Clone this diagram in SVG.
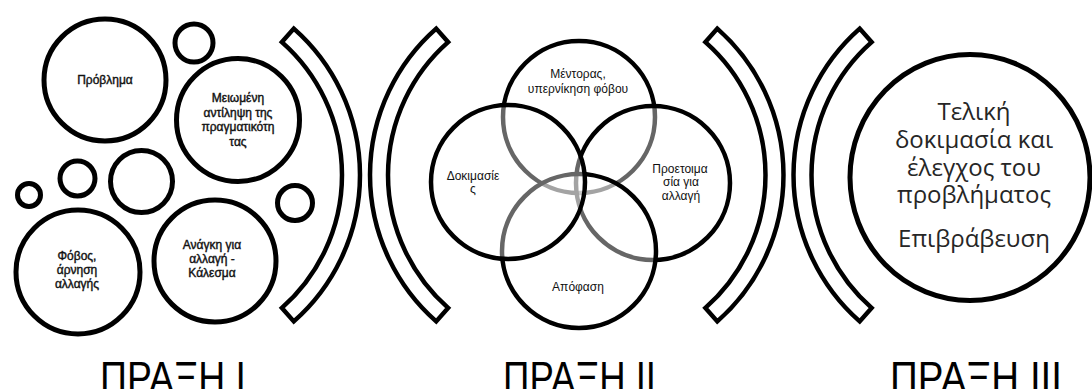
<svg xmlns="http://www.w3.org/2000/svg" width="1092" height="389" viewBox="0 0 1092 389">
<style>
.c{fill:#fff;stroke:#000;stroke-width:5}
.v{fill:#fff;fill-opacity:0.4;stroke:#000;stroke-width:4.5}
.b{fill:#fff;stroke:#000;stroke-width:4.5;stroke-linejoin:miter}
.t{font-family:"Liberation Sans",Arial,sans-serif;font-size:12px;fill:#111;text-anchor:middle}
.k{stroke:#111;stroke-width:0.4}
.f{font-family:"Open Sans","Noto Sans",sans-serif;font-size:24px;fill:#262626;text-anchor:middle}
.h{font-family:"Liberation Sans",Arial,sans-serif;font-size:44px;fill:#000}
</style>
<rect width="1092" height="389" fill="#fff"/>
<g id="act1">
  <g id="problem"><circle class="c" cx="105" cy="80" r="61"/><text class="t k" x="105" y="84">Πρόβλημα</text></g>
  <g id="small-top"><circle class="c" cx="194" cy="43" r="19"/></g>
  <g id="perception"><circle class="c" cx="238" cy="120" r="61.5"/>
    <text class="t k" x="238" y="102">Μειωμένη</text>
    <text class="t k" x="238" y="116.5">αντίληψη της</text>
    <text class="t k" x="238" y="131">πραγματικότη</text>
    <text class="t k" x="238" y="145.5">τας</text></g>
  <g id="small-a"><circle class="c" cx="29" cy="195" r="11.5"/></g>
  <g id="small-b"><circle class="c" cx="77.5" cy="178.5" r="17.5"/></g>
  <g id="small-c"><circle class="c" cx="141.5" cy="181.5" r="31"/></g>
  <g id="small-d"><circle class="c" cx="295" cy="203" r="17.5"/></g>
  <g id="fear"><circle class="c" cx="78" cy="272" r="62"/>
    <text class="t k" x="77" y="260">Φόβος,</text>
    <text class="t k" x="77" y="274">άρνηση</text>
    <text class="t k" x="77" y="288">αλλαγής</text></g>
  <g id="call"><circle class="c" cx="215" cy="261" r="61"/>
    <text class="t k" x="212" y="249">Ανάγκη για</text>
    <text class="t k" x="212" y="263">αλλαγή -</text>
    <text class="t k" x="212" y="277">Κάλεσμα</text></g>
</g>
<g id="brackets">
  <path class="b" d="M293.8 28.6 A195 195 0 0 1 293.8 321.4 L281.9 307.9 A177 177 0 0 0 281.9 42.1 Z"/>
  <path class="b" d="M436.2 28.6 A195 195 0 0 0 436.2 321.4 L448.1 307.9 A177 177 0 0 1 448.1 42.1 Z"/>
  <path class="b" d="M717.3 28.6 A195 195 0 0 1 717.3 321.4 L705.4 307.9 A177 177 0 0 0 705.4 42.1 Z"/>
  <path class="b" d="M859.7 28.6 A195 195 0 0 0 859.7 321.4 L871.6 307.9 A177 177 0 0 1 871.6 42.1 Z"/>
</g>
<g id="act2">
  <g id="mentor"><circle class="v" cx="579" cy="117" r="76"/>
    <text class="t" x="578" y="78">Μέντορας,</text>
    <text class="t" x="578" y="93">υπερνίκηση φόβου</text></g>
  <g id="preparation"><circle class="v" cx="653" cy="183" r="77"/>
    <text class="t" x="680" y="173">Προετοιμα</text>
    <text class="t" x="681" y="186">σία για</text>
    <text class="t" x="681" y="200">αλλαγή</text></g>
  <g id="decision"><circle class="v" cx="579" cy="251" r="77"/>
    <text class="t" x="578" y="291">Απόφαση</text></g>
  <g id="trials"><circle class="v" cx="508" cy="182" r="77"/>
    <text class="t" x="473" y="180">Δοκιμασίε</text>
    <text class="t" x="473" y="193">ς</text></g>
</g>
<g id="act3">
  <g id="final"><ellipse class="c" cx="970" cy="177.5" rx="120" ry="123" stroke-width="4.5"/>
    <text class="f" x="974" y="120">Τελική</text>
    <text class="f" x="974" y="148">δοκιμασία και</text>
    <text class="f" x="974" y="176">έλεγχος του</text>
    <text class="f" x="974" y="203">προβλήματος</text>
    <text class="f" x="974" y="247">Επιβράβευση</text></g>
</g>
<g id="labels">
  <text class="h" x="100" y="393" textLength="146" lengthAdjust="spacingAndGlyphs">ΠΡΑΞΗ I</text>
  <text class="h" x="503" y="393" textLength="153" lengthAdjust="spacingAndGlyphs">ΠΡΑΞΗ II</text>
  <text class="h" x="890" y="393" textLength="172" lengthAdjust="spacingAndGlyphs">ΠΡΑΞΗ III</text>
</g>
</svg>
